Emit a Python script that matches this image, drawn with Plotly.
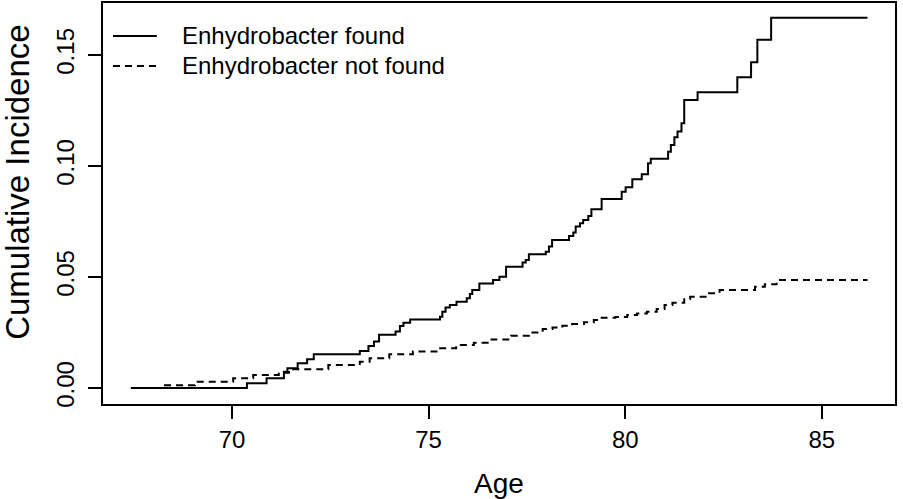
import plotly.graph_objects as go

# Kumulative Inzidenz (Treppenfunktion)
found_age = [67.43, 70.38, 70.88, 71.32, 71.41, 71.67, 71.91, 72.08, 73.25, 73.47,
             73.61, 73.74, 74.16, 74.27, 74.36, 74.53, 75.29, 75.35, 75.43, 75.54,
             75.71, 75.97, 76.05, 76.11, 76.29, 76.64, 76.80, 76.97, 77.39, 77.47,
             77.55, 77.98, 78.06, 78.14, 78.57, 78.68, 78.74, 78.85, 78.93, 79.06,
             79.14, 79.40, 79.91, 80.01, 80.18, 80.42, 80.58, 80.65, 81.09, 81.16,
             81.25, 81.33, 81.43, 81.50, 81.84, 82.85, 83.20, 83.36, 83.71, 86.16]
found_ci = [0.0, 0.0021, 0.0044, 0.0073, 0.0089, 0.0111, 0.0129, 0.0152, 0.0167, 0.0189,
            0.0209, 0.0240, 0.0254, 0.0279, 0.0294, 0.0309, 0.0321, 0.0344, 0.0363, 0.0374,
            0.0389, 0.0404, 0.0423, 0.0441, 0.0471, 0.0486, 0.0501, 0.0546, 0.0565, 0.0577,
            0.0602, 0.0614, 0.0637, 0.0667, 0.0685, 0.0700, 0.0727, 0.0742, 0.0757, 0.0775,
            0.0805, 0.0851, 0.0884, 0.0904, 0.0940, 0.0963, 0.1012, 0.1032, 0.1064, 0.1095,
            0.1129, 0.1155, 0.1192, 0.1297, 0.1332, 0.1400, 0.1467, 0.1568, 0.1668, 0.1668]

notfound_age = [67.43, 68.25, 69.06, 70.03, 70.54, 71.19, 71.45, 72.45, 73.25, 73.50,
                74.00, 74.60, 75.25, 75.70, 76.15, 76.60, 77.10, 77.55, 77.90, 78.15,
                78.40, 78.65, 78.95, 79.20, 79.40, 79.75, 80.05, 80.30, 80.55, 80.80,
                81.00, 81.20, 81.50, 81.65, 82.10, 82.40, 83.30, 83.55, 83.85, 86.16]
notfound_ci = [0.0, 0.0013, 0.0028, 0.0044, 0.0059, 0.0069, 0.0084, 0.0104, 0.0118, 0.0134,
               0.0152, 0.0164, 0.0179, 0.0194, 0.0204, 0.0219, 0.0235, 0.0250, 0.0266, 0.0272,
               0.0280, 0.0288, 0.0296, 0.0306, 0.0317, 0.0320, 0.0329, 0.0336, 0.0344, 0.0356,
               0.0374, 0.0384, 0.0400, 0.0411, 0.0427, 0.0441, 0.0456, 0.0467, 0.0486, 0.0486]

x_ticks = [70, 75, 80, 85]
y_ticks = [0.0, 0.05, 0.10, 0.15]
y_ticktext = ["0.00", "0.05", "0.10", "0.15"]

FONT = "Liberation Sans, Arial, Helvetica, sans-serif"

fig = go.Figure()
fig.add_trace(go.Scatter(
    x=found_age, y=found_ci, mode="lines", line_shape="hv",
    line=dict(color="black", width=2), name="Enhydrobacter found",
))
fig.add_trace(go.Scatter(
    x=notfound_age, y=notfound_ci, mode="lines", line_shape="hv",
    line=dict(color="black", width=2, dash="7px,5px"), name="Enhydrobacter not found",
))

# Legende ohne Rahmen, wie in R
legend_rows = [("Enhydrobacter found", "solid", 0.918), ("Enhydrobacter not found", "7px,5px", 0.843)]
for label, dash, yy in legend_rows:
    fig.add_shape(type="line", xref="paper", yref="paper", x0=0.0126, x1=0.068, y0=yy, y1=yy,
                  line=dict(color="black", width=2, dash=dash))
    fig.add_annotation(xref="paper", yref="paper", x=0.097, y=yy, text=label, showarrow=False,
                       xanchor="left", yanchor="middle", font=dict(size=24, color="black", family=FONT))

# y-Achsentitel als Annotation (im Original leicht nach oben versetzt)
fig.add_annotation(xref="paper", yref="paper", x=-0.1073, y=0.554, text="Cumulative Incidence",
                   textangle=-90, showarrow=False, xanchor="center", yanchor="middle",
                   font=dict(size=33, color="black", family=FONT))

fig.update_layout(
    width=903, height=499,
    margin=dict(l=103, r=8, t=3, b=95),
    plot_bgcolor="white", paper_bgcolor="white",
    showlegend=False,
    font=dict(family=FONT, color="black", size=24),
)
fig.update_xaxes(
    range=[66.72, 86.86], tickvals=x_ticks, ticks="outside", ticklen=13, tickwidth=2,
    tickcolor="black", showgrid=False, zeroline=False, showline=True, linecolor="black",
    linewidth=2, mirror=True, tickfont=dict(size=24), automargin=False,
    title=dict(text="Age", font=dict(size=28), standoff=22),
)
fig.update_yaxes(
    range=[-0.0072, 0.1734], tickvals=y_ticks, ticktext=y_ticktext, tickangle=-90,
    ticks="outside", ticklen=13, tickwidth=2, tickcolor="black", showgrid=False,
    zeroline=False, showline=True, linecolor="black", linewidth=2, mirror=True,
    tickfont=dict(size=24), automargin=False, ticklabelstandoff=4,
)

# Seitenrand des Browsers entfernen, damit die Grafik bei (0,0) beginnt
fig.write_html("out.html", config={"displayModeBar": False},
               post_script="document.body.style.margin='0';")
